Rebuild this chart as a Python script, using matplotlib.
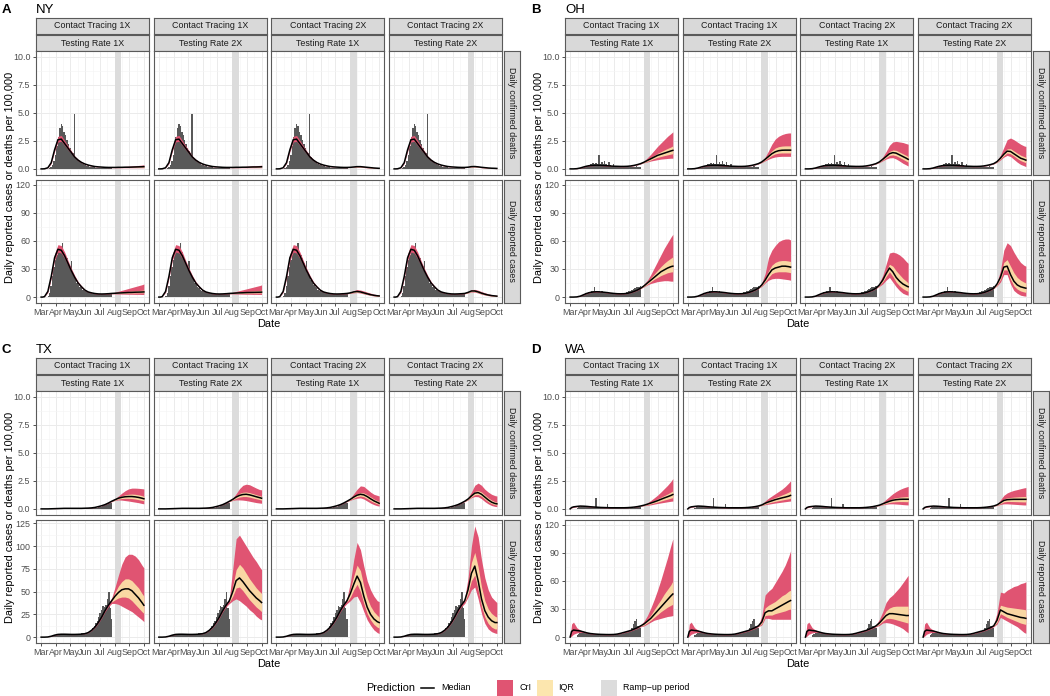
import numpy as np
import matplotlib.pyplot as plt
from matplotlib.patches import Rectangle
from matplotlib.lines import Line2D

plt.rcParams['font.family'] = ['Liberation Sans', 'DejaVu Sans']

# ---------------------------------------------------------------
# data (days since 1 Mar 2020)
# ---------------------------------------------------------------
MONTH_DAYS = [0, 31, 61, 92, 122, 153, 184, 214]
MONTHS = ['Mar', 'Apr', 'May', 'Jun', 'Jul', 'Aug', 'Sep', 'Oct']
RAMP_START, RAMP_END = 153, 167

CT_LABELS = ['Contact Tracing 1X', 'Contact Tracing 1X', 'Contact Tracing 2X', 'Contact Tracing 2X']
TR_LABELS = ['Testing Rate 1X', 'Testing Rate 2X', 'Testing Rate 1X', 'Testing Rate 2X']
ROW_LABELS = ['Daily confirmed deaths', 'Daily reported cases']
STATES = ['NY', 'OH', 'TX', 'WA']
LETTERS = ['A', 'B', 'C', 'D']

BAR_DAYS = list(range(14, 147, 3))
FIT_DAYS = [0, 3, 7, 14, 21, 28, 35, 42, 49, 56, 63, 70, 77, 84, 91, 98, 105, 112, 119, 126, 133, 140, 147]
PROJ_DAYS = [147, 154, 161, 168, 175, 182, 189, 196, 203, 210, 214]

# ---- NY ----
NY_DEATHS_OBS = [0.02, 0.05, 0.15, 0.35, 0.7, 1.2, 2.0, 2.8, 3.6, 4.0, 3.8, 3.3, 3.0, 2.6, 2.2, 1.9, 1.6, 1.4,
                 4.9, 1.1, 0.9, 0.75, 0.6, 0.5, 0.45, 0.38, 0.32, 0.28, 0.25, 0.2, 0.18, 0.15, 0.14, 0.12,
                 0.12, 0.1, 0.1, 0.1, 0.09, 0.08, 0.08, 0.08, 0.07, 0.07, 0.07]
NY_DEATHS_FIT_MED = [0, 0, 0.01, 0.1, 0.55, 1.7, 2.6, 2.65, 2.25, 1.85, 1.45, 1.05, 0.78, 0.58, 0.44, 0.34, 0.27,
                     0.21, 0.18, 0.16, 0.14, 0.13, 0.13]
NY_DEATHS_FIT_LO = [0, 0, 0.01, 0.08, 0.48, 1.55, 2.4, 2.45, 2.08, 1.7, 1.33, 0.97, 0.72, 0.53, 0.4, 0.31, 0.24,
                    0.19, 0.16, 0.14, 0.12, 0.11, 0.11]
NY_DEATHS_FIT_HI = [0, 0, 0.02, 0.12, 0.62, 1.88, 2.9, 2.98, 2.52, 2.05, 1.6, 1.15, 0.85, 0.63, 0.48, 0.37, 0.3,
                    0.24, 0.2, 0.18, 0.16, 0.15, 0.15]
NY_DEATHS_MED = [[0.13, 0.13, 0.14, 0.14, 0.15, 0.15, 0.16, 0.17, 0.18, 0.19, 0.2],
                 [0.13, 0.13, 0.14, 0.14, 0.15, 0.15, 0.16, 0.17, 0.17, 0.18, 0.19],
                 [0.13, 0.14, 0.17, 0.2, 0.2, 0.17, 0.14, 0.11, 0.08, 0.06, 0.05],
                 [0.13, 0.15, 0.2, 0.21, 0.18, 0.14, 0.11, 0.08, 0.06, 0.05, 0.04]]
NY_DEATHS_CRI_LO = [[0.11, 0.1, 0.1, 0.1, 0.1, 0.1, 0.1, 0.1, 0.1, 0.1, 0.1],
                    [0.11, 0.1, 0.1, 0.1, 0.1, 0.1, 0.1, 0.1, 0.1, 0.1, 0.1],
                    [0.11, 0.12, 0.14, 0.16, 0.15, 0.12, 0.09, 0.07, 0.05, 0.03, 0.03],
                    [0.11, 0.13, 0.16, 0.17, 0.14, 0.1, 0.08, 0.06, 0.04, 0.03, 0.02]]
NY_DEATHS_CRI_HI = [[0.15, 0.16, 0.18, 0.2, 0.22, 0.24, 0.26, 0.28, 0.31, 0.34, 0.36],
                    [0.15, 0.16, 0.18, 0.2, 0.21, 0.23, 0.25, 0.27, 0.29, 0.31, 0.33],
                    [0.15, 0.17, 0.2, 0.25, 0.26, 0.23, 0.19, 0.15, 0.12, 0.09, 0.08],
                    [0.15, 0.18, 0.25, 0.27, 0.23, 0.19, 0.15, 0.12, 0.09, 0.07, 0.06]]
NY_DEATHS_IQR_LO = [[0.12, 0.12, 0.12, 0.12, 0.13, 0.13, 0.13, 0.14, 0.14, 0.15, 0.15],
                    [0.12, 0.12, 0.12, 0.12, 0.13, 0.13, 0.13, 0.14, 0.14, 0.15, 0.15],
                    [0.12, 0.13, 0.16, 0.18, 0.18, 0.15, 0.12, 0.09, 0.07, 0.05, 0.04],
                    [0.12, 0.14, 0.18, 0.19, 0.16, 0.12, 0.1, 0.07, 0.05, 0.04, 0.03]]
NY_DEATHS_IQR_HI = [[0.14, 0.14, 0.15, 0.16, 0.17, 0.18, 0.19, 0.2, 0.21, 0.23, 0.24],
                    [0.14, 0.14, 0.15, 0.16, 0.17, 0.18, 0.19, 0.2, 0.21, 0.22, 0.23],
                    [0.14, 0.15, 0.18, 0.22, 0.22, 0.19, 0.16, 0.13, 0.1, 0.07, 0.06],
                    [0.14, 0.16, 0.22, 0.23, 0.2, 0.16, 0.12, 0.1, 0.07, 0.06, 0.05]]

NY_CASES_OBS = [1, 4, 12, 22, 32, 40, 45, 48, 50, 52, 58, 48, 45, 42, 36, 33, 38, 25, 22, 18, 15, 13, 11, 10, 8,
                7, 6, 5.5, 5, 4.5, 4, 3.8, 3.6, 3.5, 3.4, 3.4, 3.5, 3.5, 3.6, 3.6, 3.6, 3.7, 3.7, 3.7, 3.8]
NY_CASES_FIT_MED = [0, 0, 0.5, 6, 22, 42, 51, 50, 44, 36, 28, 21, 15, 11, 7.5, 5.5, 4.5, 3.8, 3.4, 3.3, 3.4, 3.6, 3.9]
NY_CASES_FIT_LO = [0, 0, 0.4, 5, 20, 39, 48, 47, 41, 33.5, 26, 19.5, 14, 10, 6.9, 5, 4.1, 3.4, 3.1, 3, 3.1, 3.3, 3.5]
NY_CASES_FIT_HI = [0, 0, 0.6, 7, 24.5, 46, 56, 55, 48, 39, 30.5, 23, 16.5, 12, 8.2, 6, 5, 4.2, 3.8, 3.6, 3.8, 4, 4.3]
NY_CASES_MED = [[3.9, 4.1, 4.3, 4.5, 4.7, 4.9, 5.0, 5.2, 5.3, 5.4, 5.5],
                [3.9, 4.1, 4.3, 4.5, 4.6, 4.8, 4.9, 5.0, 5.1, 5.2, 5.3],
                [3.9, 4.5, 5.5, 6.0, 5.5, 4.5, 3.5, 2.6, 1.9, 1.4, 1.2],
                [3.9, 5.0, 6.5, 6.5, 5.5, 4.2, 3.1, 2.2, 1.6, 1.2, 1.0]]
NY_CASES_CRI_LO = [[3.5, 3.4, 3.3, 3.2, 3.1, 3.0, 3.0, 2.9, 2.9, 2.8, 2.8],
                   [3.5, 3.4, 3.3, 3.2, 3.1, 3.0, 3.0, 2.9, 2.9, 2.8, 2.8],
                   [3.5, 3.9, 4.5, 4.8, 4.3, 3.4, 2.6, 1.8, 1.2, 0.8, 0.6],
                   [3.5, 4.4, 5.4, 5.3, 4.3, 3.1, 2.2, 1.5, 1.0, 0.7, 0.5]]
NY_CASES_CRI_HI = [[4.3, 5.2, 6.2, 7.2, 8.2, 9.2, 10.2, 11.2, 12.2, 13.2, 14.0],
                   [4.3, 5.1, 6.0, 6.9, 7.8, 8.7, 9.6, 10.5, 11.4, 12.3, 13.0],
                   [4.3, 5.2, 7.0, 8.0, 7.5, 6.5, 5.3, 4.2, 3.2, 2.5, 2.2],
                   [4.3, 5.8, 8.0, 8.2, 7.3, 5.9, 4.6, 3.5, 2.7, 2.1, 1.8]]
NY_CASES_IQR_LO = [[3.7, 3.8, 3.9, 4.0, 4.1, 4.2, 4.3, 4.4, 4.5, 4.5, 4.6],
                   [3.7, 3.8, 3.9, 4.0, 4.0, 4.1, 4.2, 4.3, 4.3, 4.4, 4.4],
                   [3.7, 4.2, 5.0, 5.4, 4.9, 3.9, 3.0, 2.2, 1.5, 1.1, 0.9],
                   [3.7, 4.7, 5.9, 5.8, 4.8, 3.6, 2.6, 1.8, 1.3, 0.9, 0.7]]
NY_CASES_IQR_HI = [[4.1, 4.5, 4.9, 5.3, 5.7, 6.1, 6.4, 6.7, 7.0, 7.3, 7.5],
                   [4.1, 4.4, 4.8, 5.2, 5.5, 5.9, 6.2, 6.5, 6.8, 7.0, 7.2],
                   [4.1, 4.8, 6.1, 6.7, 6.2, 5.2, 4.1, 3.1, 2.3, 1.8, 1.5],
                   [4.1, 5.4, 7.2, 7.3, 6.3, 4.9, 3.7, 2.7, 2.0, 1.5, 1.3]]

# ---- OH ----
OH_DEATHS_OBS = [0.01, 0.02, 0.04, 0.08, 0.12, 0.18, 0.25, 0.3, 0.35, 0.4, 0.45, 0.5, 0.45, 0.55, 0.4, 1.2, 0.45,
                 0.6, 0.4, 0.7, 0.45, 0.35, 0.6, 0.35, 0.3, 0.4, 0.3, 0.25, 0.3, 0.22, 0.25, 0.2, 0.22, 0.2, 0.18,
                 0.2, 0.15, 0.2, 0.18, 0.2, 0.15, 0.22, 0.18, 0.15, 0.2]
OH_DEATHS_FIT_MED = [0, 0, 0, 0.02, 0.08, 0.17, 0.25, 0.3, 0.32, 0.33, 0.32, 0.3, 0.28, 0.26, 0.24, 0.23, 0.22,
                     0.22, 0.23, 0.26, 0.31, 0.38, 0.47]
OH_DEATHS_FIT_LO = [0, 0, 0, 0.01, 0.06, 0.14, 0.22, 0.27, 0.29, 0.3, 0.29, 0.27, 0.25, 0.23, 0.21, 0.2, 0.19,
                    0.19, 0.2, 0.23, 0.28, 0.35, 0.44]
OH_DEATHS_FIT_HI = [0, 0, 0, 0.03, 0.1, 0.2, 0.28, 0.33, 0.35, 0.36, 0.35, 0.33, 0.31, 0.29, 0.27, 0.26, 0.25,
                    0.25, 0.26, 0.29, 0.34, 0.41, 0.5]
OH_DEATHS_MED = [[0.47, 0.6, 0.75, 0.9, 1.05, 1.2, 1.3, 1.4, 1.5, 1.6, 1.65],
                 [0.47, 0.62, 0.85, 1.1, 1.35, 1.52, 1.62, 1.66, 1.67, 1.67, 1.67],
                 [0.47, 0.62, 0.85, 1.1, 1.35, 1.45, 1.4, 1.25, 1.1, 0.95, 0.85],
                 [0.47, 0.65, 0.95, 1.3, 1.58, 1.55, 1.35, 1.15, 0.95, 0.85, 0.78]]
OH_DEATHS_CRI_LO = [[0.44, 0.55, 0.62, 0.7, 0.76, 0.82, 0.87, 0.9, 0.93, 0.95, 0.95],
                    [0.44, 0.56, 0.72, 0.86, 0.98, 1.06, 1.1, 1.12, 1.12, 1.12, 1.12],
                    [0.44, 0.56, 0.72, 0.88, 0.98, 1.0, 0.88, 0.7, 0.5, 0.35, 0.25],
                    [0.44, 0.58, 0.8, 1.05, 1.2, 1.1, 0.85, 0.6, 0.4, 0.28, 0.2]]
OH_DEATHS_CRI_HI = [[0.5, 0.7, 1.0, 1.3, 1.65, 2.0, 2.3, 2.6, 2.9, 3.15, 3.3],
                    [0.5, 0.7, 1.05, 1.6, 2.2, 2.65, 2.9, 3.05, 3.15, 3.2, 3.2],
                    [0.5, 0.7, 1.05, 1.55, 2.1, 2.4, 2.45, 2.4, 2.35, 2.25, 2.2],
                    [0.5, 0.75, 1.2, 1.9, 2.6, 2.75, 2.6, 2.4, 2.2, 2.05, 2.0]]
OH_DEATHS_IQR_LO = [[0.46, 0.57, 0.68, 0.8, 0.92, 1.03, 1.1, 1.18, 1.25, 1.32, 1.35],
                    [0.46, 0.6, 0.8, 1.0, 1.2, 1.34, 1.4, 1.42, 1.42, 1.42, 1.42],
                    [0.46, 0.6, 0.8, 1.0, 1.2, 1.25, 1.17, 1.02, 0.86, 0.7, 0.6],
                    [0.46, 0.62, 0.88, 1.18, 1.42, 1.35, 1.15, 0.93, 0.74, 0.62, 0.55]]
OH_DEATHS_IQR_HI = [[0.48, 0.64, 0.83, 1.02, 1.2, 1.38, 1.53, 1.68, 1.82, 1.95, 2.05],
                    [0.48, 0.65, 0.93, 1.25, 1.6, 1.85, 1.98, 2.03, 2.05, 2.05, 2.05],
                    [0.48, 0.65, 0.92, 1.22, 1.55, 1.68, 1.65, 1.5, 1.35, 1.2, 1.1],
                    [0.48, 0.68, 1.02, 1.45, 1.78, 1.8, 1.6, 1.4, 1.22, 1.1, 1.02]]

OH_CASES_OBS = [0.1, 0.3, 0.8, 1.5, 2.5, 3.2, 4, 4.5, 5, 5.5, 6, 7, 11, 6, 5.5, 6, 5.5, 6, 5.5, 5, 5, 5, 4.5, 4.5,
                4, 4, 4, 3.5, 3.5, 3.5, 3.5, 3.5, 4, 4.5, 5, 5.5, 6, 7, 8, 9, 10, 11, 11, 11, 12]
OH_CASES_FIT_MED = [0, 0, 0, 0.2, 1, 2.5, 4, 5, 5.5, 5.7, 5.5, 5.2, 4.8, 4.3, 3.9, 3.6, 3.5, 3.6, 4, 4.8, 6, 7.5, 9.5]
OH_CASES_FIT_LO = [0, 0, 0, 0.15, 0.8, 2.2, 3.6, 4.6, 5.1, 5.3, 5.1, 4.8, 4.4, 3.9, 3.6, 3.3, 3.2, 3.3, 3.7, 4.5,
                   5.6, 7.1, 9]
OH_CASES_FIT_HI = [0, 0, 0, 0.25, 1.2, 2.8, 4.4, 5.4, 5.9, 6.1, 5.9, 5.6, 5.2, 4.7, 4.2, 3.9, 3.8, 3.9, 4.3, 5.1,
                   6.4, 7.9, 10]
OH_CASES_MED = [[9.5, 12, 15, 18, 21, 24, 27, 29, 31, 32.5, 33],
                [9.5, 13, 18, 24, 29, 31, 32, 33, 33, 32.5, 32],
                [9.5, 13, 18, 25, 31, 27, 21, 17, 14, 12, 11],
                [9.5, 14, 21, 32, 33, 24, 17, 13, 11, 10, 9.5]]
OH_CASES_CRI_LO = [[9, 11, 13, 14.5, 15.5, 16.5, 17, 17.5, 17.5, 17, 17],
                   [9, 11.5, 15, 18, 19.5, 20, 20, 19.5, 19, 18.5, 18],
                   [9, 11.5, 14, 18, 21, 16, 11, 7, 4, 2.5, 2],
                   [9, 12, 16, 24, 24, 14, 7, 4, 2, 1.2, 1]]
OH_CASES_CRI_HI = [[10, 14, 18, 24, 31, 38, 45, 52, 58, 64, 67],
                   [10, 15, 25, 42, 50, 55, 59, 61, 62, 62, 61],
                   [10, 15, 23, 35, 47, 48, 47, 45, 42, 38, 36],
                   [10, 16, 28, 50, 58, 55, 48, 42, 37, 34, 33]]
OH_CASES_IQR_LO = [[9.3, 11.5, 14, 16.5, 19, 21, 23, 24.5, 26, 26.8, 27],
                   [9.3, 12.5, 16.5, 21, 25, 26.5, 27, 27, 27, 26.5, 26],
                   [9.3, 12.5, 16.5, 22, 27, 22, 16, 12, 9, 7, 6],
                   [9.3, 13, 19, 29, 29, 19, 12, 8.5, 6.5, 5.5, 5]]
OH_CASES_IQR_HI = [[9.7, 12.7, 16.5, 20.5, 24.5, 28.5, 32.5, 36, 39, 41.5, 43],
                   [9.7, 13.5, 20, 28, 34, 37, 38.5, 39, 39, 38.5, 38],
                   [9.7, 13.8, 19.5, 28, 35, 33, 28, 24, 20, 17, 15],
                   [9.7, 15, 23.5, 37, 40, 33, 26, 21, 18, 16, 15]]

# ---- TX ----
TX_DEATHS_OBS = [0.0, 0.0, 0.01, 0.01, 0.02, 0.02, 0.03, 0.04, 0.04, 0.05, 0.05, 0.05, 0.06, 0.05, 0.06, 0.06, 0.05,
                 0.06, 0.06, 0.05, 0.06, 0.05, 0.05, 0.05, 0.05, 0.05, 0.05, 0.05, 0.06, 0.06, 0.06, 0.07, 0.08,
                 0.1, 0.12, 0.15, 0.2, 0.2, 0.25, 0.35, 0.4, 0.45, 0.5, 0.55, 0.5]
TX_DEATHS_FIT_MED = [0, 0, 0, 0, 0.01, 0.02, 0.03, 0.04, 0.05, 0.05, 0.05, 0.05, 0.05, 0.05, 0.06, 0.07, 0.09,
                     0.13, 0.2, 0.28, 0.38, 0.52, 0.68]
TX_DEATHS_FIT_LO = [0, 0, 0, 0, 0.01, 0.02, 0.03, 0.04, 0.04, 0.04, 0.04, 0.04, 0.04, 0.04, 0.05, 0.06, 0.08,
                    0.12, 0.18, 0.26, 0.36, 0.49, 0.64]
TX_DEATHS_FIT_HI = [0, 0, 0, 0, 0.01, 0.03, 0.04, 0.05, 0.06, 0.06, 0.06, 0.06, 0.06, 0.06, 0.07, 0.08, 0.1,
                    0.14, 0.22, 0.3, 0.41, 0.55, 0.72]
TX_DEATHS_MED = [[0.68, 0.82, 0.95, 1.03, 1.08, 1.1, 1.1, 1.07, 1.02, 0.95, 0.9],
                 [0.68, 0.85, 1.05, 1.2, 1.28, 1.3, 1.25, 1.17, 1.08, 1.0, 0.95],
                 [0.68, 0.85, 1.05, 1.22, 1.3, 1.25, 1.1, 0.9, 0.72, 0.58, 0.5],
                 [0.68, 0.88, 1.15, 1.4, 1.45, 1.3, 1.05, 0.8, 0.6, 0.48, 0.45]]
TX_DEATHS_CRI_LO = [[0.64, 0.76, 0.8, 0.78, 0.74, 0.7, 0.65, 0.6, 0.55, 0.48, 0.45],
                    [0.64, 0.76, 0.8, 0.8, 0.78, 0.74, 0.68, 0.62, 0.56, 0.52, 0.5],
                    [0.64, 0.77, 0.88, 0.95, 0.98, 0.88, 0.7, 0.52, 0.38, 0.28, 0.25],
                    [0.64, 0.8, 1.0, 1.1, 1.08, 0.9, 0.65, 0.45, 0.3, 0.22, 0.2]]
TX_DEATHS_CRI_HI = [[0.72, 0.9, 1.15, 1.4, 1.62, 1.78, 1.85, 1.85, 1.83, 1.8, 1.78],
                    [0.72, 0.95, 1.35, 1.8, 2.1, 2.2, 2.15, 2.0, 1.85, 1.72, 1.7],
                    [0.72, 0.95, 1.35, 1.75, 2.05, 2.0, 1.75, 1.5, 1.3, 1.2, 1.15],
                    [0.72, 1.0, 1.5, 2.1, 2.3, 2.1, 1.75, 1.5, 1.3, 1.18, 1.15]]
TX_DEATHS_IQR_LO = [[0.66, 0.79, 0.88, 0.92, 0.94, 0.94, 0.92, 0.88, 0.82, 0.76, 0.72],
                    [0.66, 0.8, 0.95, 1.05, 1.1, 1.1, 1.05, 0.97, 0.9, 0.83, 0.78],
                    [0.66, 0.81, 0.97, 1.1, 1.15, 1.08, 0.92, 0.73, 0.57, 0.45, 0.4],
                    [0.66, 0.84, 1.08, 1.26, 1.28, 1.12, 0.87, 0.64, 0.47, 0.37, 0.34]]
TX_DEATHS_IQR_HI = [[0.7, 0.85, 1.03, 1.15, 1.25, 1.3, 1.32, 1.3, 1.25, 1.18, 1.12],
                    [0.7, 0.9, 1.15, 1.38, 1.48, 1.5, 1.45, 1.36, 1.26, 1.17, 1.12],
                    [0.7, 0.9, 1.14, 1.35, 1.45, 1.42, 1.27, 1.07, 0.88, 0.73, 0.65],
                    [0.7, 0.93, 1.25, 1.55, 1.63, 1.5, 1.24, 0.98, 0.78, 0.64, 0.6]]

TX_CASES_OBS = [0.1, 0.3, 0.8, 1.5, 2.2, 2.8, 3, 3.2, 3.3, 3.3, 3.2, 3.3, 3.2, 3.4, 3.2, 3.2, 3.5, 3.5, 3.6, 3.4,
                3.8, 3.6, 3.7, 4, 4.5, 4.5, 4.5, 5, 6, 7, 8, 10, 12, 15, 18, 22, 26, 30, 34, 33, 35, 42, 50, 32, 20]
TX_CASES_FIT_MED = [0, 0, 0, 0.2, 1, 2.2, 3, 3.2, 3.2, 3.1, 3, 3, 3.1, 3.3, 3.8, 5, 7.5, 11, 16, 22, 29, 35, 40]
TX_CASES_FIT_LO = [0, 0, 0, 0.15, 0.85, 2, 2.8, 3, 3, 2.9, 2.8, 2.8, 2.9, 3.1, 3.6, 4.7, 7.1, 10.4, 15.2, 21, 27.8,
                   33.2, 37]
TX_CASES_FIT_HI = [0, 0, 0, 0.25, 1.15, 2.4, 3.2, 3.4, 3.4, 3.3, 3.2, 3.2, 3.3, 3.5, 4, 5.3, 7.9, 11.6, 16.8, 23,
                   30.2, 36.8, 43]
TX_CASES_MED = [[40, 45, 49, 52, 53, 53, 51, 47, 43, 38, 35],
                [40, 50, 62, 65, 61, 56, 51, 47, 43, 40, 38],
                [40, 48, 58, 67, 60, 45, 33, 25, 20, 17, 16],
                [40, 52, 70, 78, 62, 42, 29, 22, 18, 16, 16]]
TX_CASES_CRI_LO = [[37, 37, 36, 34, 32, 30, 28, 25, 22, 19, 17],
                   [37, 40, 42, 40, 37, 34, 30, 27, 23, 20, 19],
                   [37, 40, 44, 45, 38, 28, 19, 13, 8, 5, 4],
                   [37, 44, 52, 55, 42, 26, 15, 9, 6, 4.5, 4]]
TX_CASES_CRI_HI = [[43, 55, 68, 80, 88, 91, 91, 89, 85, 79, 76],
                   [43, 75, 108, 112, 106, 100, 94, 88, 83, 77, 74],
                   [43, 60, 85, 104, 96, 78, 62, 52, 45, 40, 39],
                   [43, 65, 100, 122, 110, 85, 65, 52, 44, 40, 38]]
TX_CASES_IQR_LO = [[38.5, 41, 43, 44, 44, 43, 40, 36, 32, 28, 26],
                   [38.5, 45, 54, 55, 51, 46, 41, 37, 33, 30, 28],
                   [38.5, 44, 52, 58, 50, 37, 26, 19, 14, 11, 10],
                   [38.5, 48, 62, 68, 52, 34, 22, 15, 11, 9, 9]]
TX_CASES_IQR_HI = [[41.5, 49, 56, 61, 64, 64, 62, 58, 54, 48, 45],
                   [41.5, 56, 74, 80, 76, 70, 64, 59, 54, 50, 48],
                   [41.5, 53, 67, 79, 73, 56, 43, 34, 28, 24, 22],
                   [41.5, 57, 82, 93, 77, 55, 40, 31, 26, 23, 22]]

# ---- WA ----
WA_DEATHS_OBS = [0.1, 0.15, 0.2, 0.25, 0.2, 0.25, 0.25, 0.2, 0.22, 0.2, 0.15, 0.2, 0.18, 1.0, 0.15, 0.15, 0.12,
                 0.15, 0.12, 0.1, 0.1, 0.4, 0.1, 0.08, 0.1, 0.08, 0.08, 0.08, 0.07, 0.08, 0.08, 0.07, 0.08, 0.08,
                 0.08, 0.1, 0.1, 0.1, 0.12, 0.12, 0.14, 0.15, 0.15, 0.18, 0.18]
WA_DEATHS_FIT_MED = [0, 0.12, 0.18, 0.22, 0.25, 0.24, 0.22, 0.19, 0.17, 0.15, 0.13, 0.12, 0.11, 0.1, 0.1, 0.1, 0.1,
                     0.1, 0.11, 0.13, 0.16, 0.2, 0.26]
WA_DEATHS_FIT_LO = [0, 0.08, 0.14, 0.19, 0.22, 0.21, 0.19, 0.17, 0.15, 0.13, 0.11, 0.1, 0.09, 0.09, 0.09, 0.09,
                    0.09, 0.09, 0.1, 0.12, 0.14, 0.18, 0.24]
WA_DEATHS_FIT_HI = [0, 0.16, 0.23, 0.26, 0.28, 0.27, 0.25, 0.22, 0.19, 0.17, 0.15, 0.14, 0.13, 0.12, 0.11, 0.11,
                    0.11, 0.11, 0.12, 0.14, 0.18, 0.22, 0.28]
WA_DEATHS_MED = [[0.26, 0.33, 0.42, 0.52, 0.62, 0.73, 0.85, 0.97, 1.08, 1.2, 1.28],
                 [0.26, 0.35, 0.5, 0.62, 0.72, 0.82, 0.9, 0.98, 1.05, 1.13, 1.2],
                 [0.26, 0.33, 0.45, 0.57, 0.68, 0.77, 0.82, 0.85, 0.86, 0.86, 0.86],
                 [0.26, 0.36, 0.55, 0.75, 0.82, 0.84, 0.85, 0.85, 0.85, 0.85, 0.85]]
WA_DEATHS_CRI_LO = [[0.24, 0.28, 0.32, 0.36, 0.42, 0.48, 0.53, 0.58, 0.63, 0.68, 0.7],
                    [0.24, 0.3, 0.38, 0.42, 0.47, 0.52, 0.56, 0.6, 0.64, 0.68, 0.7],
                    [0.24, 0.29, 0.36, 0.42, 0.45, 0.45, 0.43, 0.41, 0.38, 0.36, 0.35],
                    [0.24, 0.3, 0.4, 0.45, 0.45, 0.43, 0.41, 0.39, 0.37, 0.35, 0.35]]
WA_DEATHS_CRI_HI = [[0.28, 0.38, 0.55, 0.75, 0.98, 1.22, 1.5, 1.8, 2.1, 2.45, 2.7],
                    [0.28, 0.4, 0.7, 0.95, 1.15, 1.35, 1.55, 1.75, 2.0, 2.3, 2.5],
                    [0.28, 0.38, 0.58, 0.85, 1.1, 1.35, 1.55, 1.72, 1.85, 1.95, 2.0],
                    [0.28, 0.42, 0.8, 1.2, 1.42, 1.55, 1.65, 1.72, 1.8, 1.87, 1.9]]
WA_DEATHS_IQR_LO = [[0.25, 0.31, 0.38, 0.45, 0.53, 0.61, 0.7, 0.79, 0.87, 0.96, 1.0],
                    [0.25, 0.32, 0.44, 0.53, 0.6, 0.67, 0.73, 0.79, 0.85, 0.9, 0.95],
                    [0.25, 0.31, 0.4, 0.5, 0.57, 0.62, 0.64, 0.65, 0.65, 0.64, 0.64],
                    [0.25, 0.33, 0.48, 0.62, 0.66, 0.66, 0.65, 0.64, 0.63, 0.62, 0.62]]
WA_DEATHS_IQR_HI = [[0.27, 0.35, 0.47, 0.6, 0.74, 0.88, 1.03, 1.18, 1.33, 1.5, 1.6],
                    [0.27, 0.38, 0.58, 0.74, 0.88, 1.0, 1.12, 1.24, 1.36, 1.5, 1.6],
                    [0.27, 0.35, 0.5, 0.65, 0.8, 0.92, 0.99, 1.04, 1.07, 1.09, 1.1],
                    [0.27, 0.39, 0.62, 0.88, 0.98, 1.02, 1.05, 1.07, 1.09, 1.1, 1.1]]

WA_CASES_OBS = [2, 3, 4, 4.5, 4.5, 4.5, 4, 4, 4, 3.8, 3.5, 3.5, 3.5, 3.2, 3, 3, 3, 3, 2.8, 2.8, 2.8, 2.5, 2.5, 2.5,
                2.5, 2.5, 2.6, 2.7, 2.8, 3, 3, 3, 4, 4, 5, 6, 7, 8, 10, 14, 17, 19, 12, 10, 10]
WA_CASES_FIT_MED = [0, 6, 7.5, 7, 6.5, 5.5, 4.5, 3.8, 3.4, 3.1, 2.9, 2.8, 2.7, 2.7, 2.8, 3.2, 4, 5, 6, 7, 8.5, 10, 12]
WA_CASES_FIT_LO = [0, 1, 3, 4.5, 5, 4.8, 4, 3.4, 3, 2.8, 2.6, 2.5, 2.4, 2.4, 2.5, 2.9, 3.6, 4.5, 5.4, 6.4, 7.8, 9.2,
                   11]
WA_CASES_FIT_HI = [0, 14, 16, 10, 7.5, 6.2, 5, 4.2, 3.8, 3.4, 3.2, 3.1, 3, 3, 3.1, 3.5, 4.4, 5.5, 6.6, 7.7, 9.2, 11,
                   13]
WA_CASES_MED = [[12, 14, 17, 20, 24, 28, 32, 36, 40, 44, 46],
                [12, 16, 26, 28, 28, 30, 32, 34, 36, 38, 39],
                [12, 15, 19, 23, 25, 25, 24.5, 24, 23.5, 23, 23],
                [12, 18, 29, 27, 25, 24, 23, 22, 21, 20.5, 20]]
WA_CASES_CRI_LO = [[11, 12, 14, 16, 18, 19, 20, 21, 22, 22.5, 23],
                   [11, 13, 20, 20, 19, 19, 19, 19, 19, 19, 19],
                   [11, 12.5, 15, 15.5, 15, 14, 12.5, 11, 9, 6, 4.5],
                   [11, 14, 21, 19, 17, 15, 13, 11, 8, 5, 4]]
WA_CASES_CRI_HI = [[13, 17, 23, 31, 40, 50, 61, 73, 85, 98, 105],
                   [13, 22, 45, 49, 52, 58, 64, 70, 77, 86, 92],
                   [13, 19, 27, 37, 42, 45, 49, 53, 58, 63, 66],
                   [13, 26, 48, 47, 50, 52, 54, 55, 57, 58, 59]]
WA_CASES_IQR_LO = [[11.5, 13, 15.5, 18, 21, 24, 27, 29.5, 32, 34, 35],
                   [11.5, 14.5, 23, 23.5, 23.5, 25, 26, 27, 28, 29.5, 30],
                   [11.5, 14, 17, 19.5, 20, 19.5, 18.5, 17.5, 16.5, 15.5, 15],
                   [11.5, 16, 25, 23, 21, 19.5, 18, 16.5, 15, 14, 13.5]]
WA_CASES_IQR_HI = [[12.5, 15, 19, 23.5, 29, 34.5, 40, 46, 51, 56, 60],
                   [12.5, 18, 31, 34, 36, 38, 41, 44, 46, 49, 50],
                   [12.5, 16, 21.5, 28, 31, 32.5, 33, 33, 33, 33, 33],
                   [12.5, 21, 34, 33, 32, 31.5, 31, 30.5, 30, 29.5, 29]]

# y axes per state for the cases row
CASE_TICKS = {'NY': [0, 30, 60, 90, 120], 'OH': [0, 30, 60, 90, 120], 'TX': [0, 25, 50, 75, 100, 125],
              'WA': [0, 30, 60, 90, 120]}
CASE_YLIM = {'NY': (-6, 125), 'OH': (-6, 125), 'TX': (-6.1, 128.6), 'WA': (-6, 125)}
DEATH_TICKS = [0, 2.5, 5, 7.5, 10]

SERIES = {
    ('NY', 0): (NY_DEATHS_OBS, NY_DEATHS_FIT_MED, NY_DEATHS_FIT_LO, NY_DEATHS_FIT_HI,
                NY_DEATHS_MED, NY_DEATHS_CRI_LO, NY_DEATHS_CRI_HI, NY_DEATHS_IQR_LO, NY_DEATHS_IQR_HI),
    ('NY', 1): (NY_CASES_OBS, NY_CASES_FIT_MED, NY_CASES_FIT_LO, NY_CASES_FIT_HI,
                NY_CASES_MED, NY_CASES_CRI_LO, NY_CASES_CRI_HI, NY_CASES_IQR_LO, NY_CASES_IQR_HI),
    ('OH', 0): (OH_DEATHS_OBS, OH_DEATHS_FIT_MED, OH_DEATHS_FIT_LO, OH_DEATHS_FIT_HI,
                OH_DEATHS_MED, OH_DEATHS_CRI_LO, OH_DEATHS_CRI_HI, OH_DEATHS_IQR_LO, OH_DEATHS_IQR_HI),
    ('OH', 1): (OH_CASES_OBS, OH_CASES_FIT_MED, OH_CASES_FIT_LO, OH_CASES_FIT_HI,
                OH_CASES_MED, OH_CASES_CRI_LO, OH_CASES_CRI_HI, OH_CASES_IQR_LO, OH_CASES_IQR_HI),
    ('TX', 0): (TX_DEATHS_OBS, TX_DEATHS_FIT_MED, TX_DEATHS_FIT_LO, TX_DEATHS_FIT_HI,
                TX_DEATHS_MED, TX_DEATHS_CRI_LO, TX_DEATHS_CRI_HI, TX_DEATHS_IQR_LO, TX_DEATHS_IQR_HI),
    ('TX', 1): (TX_CASES_OBS, TX_CASES_FIT_MED, TX_CASES_FIT_LO, TX_CASES_FIT_HI,
                TX_CASES_MED, TX_CASES_CRI_LO, TX_CASES_CRI_HI, TX_CASES_IQR_LO, TX_CASES_IQR_HI),
    ('WA', 0): (WA_DEATHS_OBS, WA_DEATHS_FIT_MED, WA_DEATHS_FIT_LO, WA_DEATHS_FIT_HI,
                WA_DEATHS_MED, WA_DEATHS_CRI_LO, WA_DEATHS_CRI_HI, WA_DEATHS_IQR_LO, WA_DEATHS_IQR_HI),
    ('WA', 1): (WA_CASES_OBS, WA_CASES_FIT_MED, WA_CASES_FIT_LO, WA_CASES_FIT_HI,
                WA_CASES_MED, WA_CASES_CRI_LO, WA_CASES_CRI_HI, WA_CASES_IQR_LO, WA_CASES_IQR_HI),
}

# ---------------------------------------------------------------
# style / layout (pixels)
# ---------------------------------------------------------------
W, H = 1050, 696
C_CRI = '#E05472'
C_IQR = '#F9D7A3'
C_IQR_KEY = '#FCE6AE'
C_RAMP = '#DCDCDC'
C_BAR = '#595959'
C_BORDER = '#5A5A5A'
C_STRIP = '#D9D9D9'
TXT = '#4D4D4D'

OFFSETS = {'NY': (0, 0), 'OH': (529, 0), 'TX': (0, 340), 'WA': (529, 340)}
COL_LEFT = [36, 153.7, 271.3, 389]
COL_W = 113
ROW_TOP = [51, 180]
ROW_H = [123.5, 122.7]

fig = plt.figure(figsize=(W / 100, H / 100), dpi=100)


def ax_px(x, y, w, h):
    return fig.add_axes([x / W, 1 - (y + h) / H, w / W, h / H])


def strip(x, y, w, h, text, rot=0):
    s = ax_px(x, y, w, h)
    s.set_facecolor(C_STRIP)
    s.set_xticks([])
    s.set_yticks([])
    for sp in s.spines.values():
        sp.set_color(C_BORDER)
        sp.set_linewidth(0.8)
    s.text(0.5, 0.5, text, transform=s.transAxes, ha='center', va='center',
           rotation=rot, fontsize=6.4, color='#1A1A1A')


minor_x = [(a + b) / 2 for a, b in zip(MONTH_DAYS[:-1], MONTH_DAYS[1:])]

for si, st in enumerate(STATES):
    ox, oy = OFFSETS[st]
    for c in range(4):
        x0 = ox + COL_LEFT[c]
        strip(x0, oy + 17.7, COL_W, 16.6, CT_LABELS[c])
        strip(x0, oy + 35.3, COL_W, 15.7, TR_LABELS[c])
        for r in range(2):
            obs, fmed, flo, fhi, pmed, clo, chi, qlo, qhi = SERIES[(st, r)]
            ax = ax_px(x0, oy + ROW_TOP[r], COL_W, ROW_H[r])
            ax.axvspan(RAMP_START, RAMP_END, color=C_RAMP, lw=0, zorder=1)
            ax.bar(np.array(BAR_DAYS) + 1, obs, width=3, color=C_BAR, lw=0, zorder=2)
            xs = FIT_DAYS + PROJ_DAYS[1:]
            ax.fill_between(xs, flo + clo[c][1:], fhi + chi[c][1:], color=C_CRI, lw=0, zorder=3)
            ax.fill_between(PROJ_DAYS, qlo[c], qhi[c], color=C_IQR, lw=0, zorder=4)
            ax.plot(xs, fmed + pmed[c][1:], color='black', lw=1.1, zorder=5)

            ax.set_xlim(-10.7, 224.7)
            ax.set_xticks(MONTH_DAYS)
            ax.set_xticks(minor_x, minor=True)
            if r == 0:
                ax.set_ylim(-0.5, 10.5)
                yt = DEATH_TICKS
                ylab = ['%.1f' % v for v in yt]
            else:
                ax.set_ylim(*CASE_YLIM[st])
                yt = CASE_TICKS[st]
                ylab = [str(v) for v in yt]
            ax.set_yticks(yt)
            ax.set_yticks([(a + b) / 2 for a, b in zip(yt[:-1], yt[1:])], minor=True)
            ax.grid(True, which='major', color='#EBEBEB', lw=0.7, zorder=0)
            ax.grid(True, which='minor', color='#F4F4F4', lw=0.45, zorder=0)
            ax.set_axisbelow(True)
            ax.tick_params(which='major', length=2.5, width=0.6, color='#333333',
                           labelsize=6.4, labelcolor=TXT, pad=1.5)
            ax.tick_params(which='minor', length=0)
            if c == 0:
                ax.set_yticklabels(ylab)
            else:
                ax.tick_params(axis='y', which='major', length=0, labelleft=False)
            if r == 1:
                ax.set_xticklabels(MONTHS)
            else:
                ax.tick_params(axis='x', which='major', length=0, labelbottom=False)
            for sp in ax.spines.values():
                sp.set_color(C_BORDER)
                sp.set_linewidth(0.8)
            if c == 3:
                strip(x0 + COL_W + 1.5, oy + ROW_TOP[r], 16.5, ROW_H[r], ROW_LABELS[r], rot=-90)

    # panel titles and axis titles
    fig.text((ox + 2) / W, 1 - (oy + 10) / H, LETTERS[si], fontsize=9.5, fontweight='bold',
             ha='left', va='center', color='black')
    fig.text((ox + 36) / W, 1 - (oy + 10) / H, st, fontsize=9.5, ha='left', va='center', color='black')
    fig.text((ox + 10) / W, 1 - (oy + 177) / H, 'Daily reported cases or deaths per 100,000',
             rotation=90, fontsize=7.9, ha='center', va='center', color='black')
    fig.text((ox + 269) / W, 1 - (oy + 324) / H, 'Date', fontsize=7.9, ha='center', va='center', color='black')

# legend
lax = fig.add_axes([0, 0, 1, 1])
lax.set_xlim(0, W)
lax.set_ylim(H, 0)
lax.axis('off')
lax.patch.set_alpha(0)
ly = 688
lax.text(366, ly, 'Prediction', fontsize=7.8, ha='left', va='center')
lax.add_line(Line2D([421, 434], [ly, ly], color='black', lw=1.1))
lax.text(441, ly, 'Median', fontsize=6.4, ha='left', va='center')
lax.add_patch(Rectangle((497, 680), 16, 15.5, color=C_CRI, lw=0))
lax.text(519, ly, 'CrI', fontsize=6.4, ha='left', va='center')
lax.add_patch(Rectangle((537, 680), 16, 15.5, color=C_IQR_KEY, lw=0))
lax.text(558, ly, 'IQR', fontsize=6.4, ha='left', va='center')
lax.add_patch(Rectangle((601, 680), 16, 15.5, color=C_RAMP, lw=0))
lax.text(623, ly, 'Ramp\u2212up period', fontsize=6.4, ha='left', va='center')

fig.savefig('out.png', dpi=100)
